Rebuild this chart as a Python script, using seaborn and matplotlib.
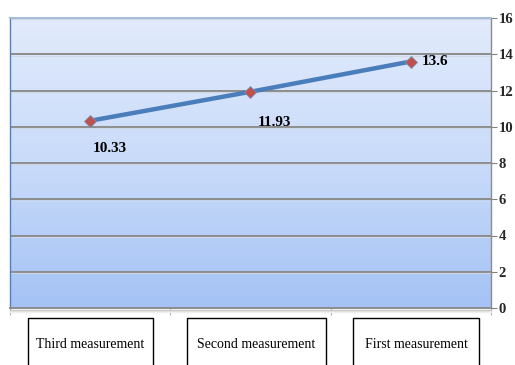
import numpy as np
import matplotlib
matplotlib.use("Agg")
import matplotlib.pyplot as plt
import seaborn as sns
from matplotlib.patches import Rectangle

categories = ["Third measurement", "Second measurement", "First measurement"]
values = [10.33, 11.93, 13.6]
y_ticks = [0, 2, 4, 6, 8, 10, 12, 14, 16]

sns.set_theme(style="white")
plt.rcParams["font.family"] = ["Liberation Serif", "DejaVu Serif"]

fig = plt.figure(figsize=(5.15, 3.65), dpi=100)
ax = fig.add_axes([10 / 515, 57 / 365, 481 / 515, 290 / 365])

# vertical gradient background of the plot area
grad = np.linspace(0, 1, 256).reshape(-1, 1)
cmap = matplotlib.colors.LinearSegmentedColormap.from_list(
    "bg", ["#a4c2f4", "#c9dbfa", "#e2ebfc"])
ax.imshow(grad, aspect="auto", cmap=cmap, origin="lower",
          extent=[0, 1, 0, 1], transform=ax.transAxes, zorder=0)

# horizontal grid lines
for t in y_ticks[1:]:
    ax.axhline(t, color="#8c8c8c", lw=1.4, zorder=1)
    ax.axhline(t - 0.08, color="#cfd8e6", lw=0.8, zorder=1)

sns.lineplot(x=categories, y=values, sort=False, ax=ax, color="#4a7ebb",
             lw=3.2, zorder=3)
ax.plot(range(len(values)), values, ls="none", marker="D", ms=6,
        mfc="#c0504d", mec="#7b8fb5", mew=0.6, zorder=4)

offsets = [(0.12, -1.55), (0.15, -1.7), (0.15, 0.0)]
for i, (v, (dx, dy)) in enumerate(zip(values, offsets)):
    ax.text(i + dx, v + dy, f"{v:g}", fontsize=11, fontweight="bold",
            ha="center", va="center", color="black", zorder=5)

ax.set_xlim(-0.5, 2.5)
ax.set_ylim(0, 16)
ax.set_yticks(y_ticks)
ax.yaxis.tick_right()
ax.tick_params(axis="y", right=True, length=4, width=0.8, color="#808080",
               labelsize=10.5, pad=1.5)
for lab in ax.get_yticklabels():
    lab.set_fontweight("bold")
ax.set_xticks([-0.5, 0.5, 1.5, 2.5])
ax.set_xticklabels([])
ax.tick_params(axis="x", bottom=True, length=5, width=0.8, color="#b0b0b0")
ax.set_xlabel("")
ax.set_ylabel("")

ax.spines["left"].set_color("#4f81bd")
ax.spines["left"].set_linewidth(1.0)
ax.spines["top"].set_color("#a9bcd8")
ax.spines["top"].set_linewidth(1.5)
ax.spines["right"].set_color("#8c8c8c")
ax.spines["right"].set_linewidth(1.0)
ax.spines["bottom"].set_color("#8c8c8c")
ax.spines["bottom"].set_linewidth(1.4)

# soft shadow under the category axis
for k, c in enumerate(["#c4c4c4", "#dedede", "#efefef"]):
    fig.add_artist(plt.Line2D([10 / 515, 491 / 515],
                              [(57 - 1.5 - k) / 365] * 2,
                              transform=fig.transFigure, color=c, lw=1.0))

# category labels in framed boxes below the axis
boxes = [(28, 153), (187, 326), (353, 479)]
for (x0, x1), name in zip(boxes, categories):
    fig.patches.append(Rectangle((x0 / 515, -0.05), (x1 - x0) / 515,
                                 (365 - 318) / 365 + 0.05,
                                 transform=fig.transFigure, fill=False,
                                 ec="black", lw=1.0))
    fig.text((x0 + x1) / 2 / 515, (365 - 344) / 365, name, ha="center",
             va="center", fontsize=10, color="black")

fig.savefig("out.png", dpi=100)
